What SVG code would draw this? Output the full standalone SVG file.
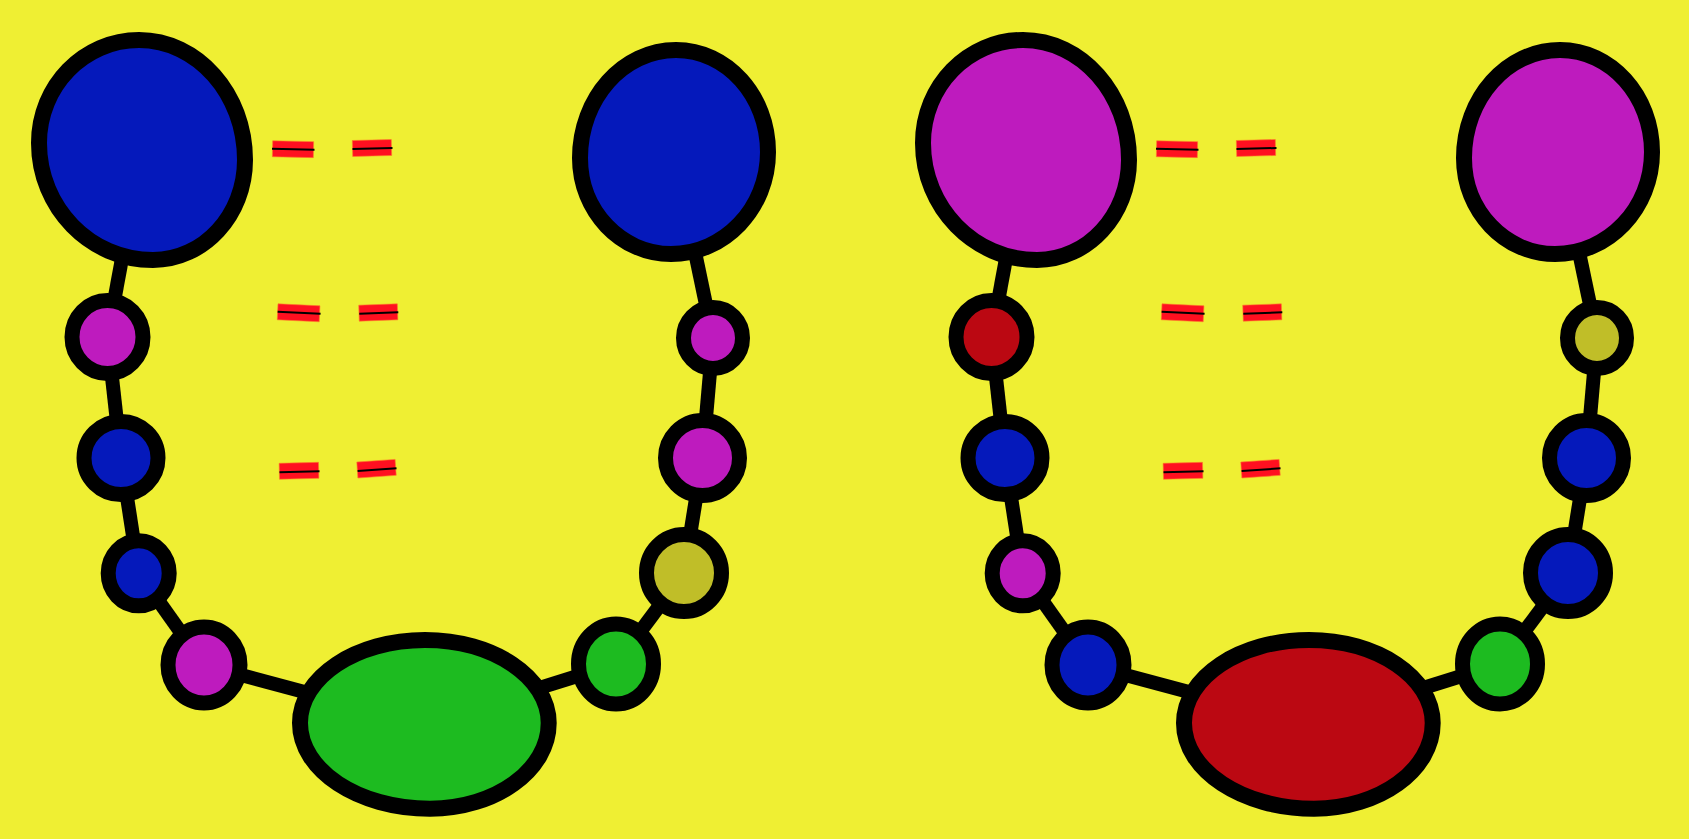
<svg xmlns="http://www.w3.org/2000/svg" width="1689" height="839" viewBox="0 0 1689 839">
<style>
.e{stroke:#000;stroke-width:14;stroke-linecap:butt}
.big{stroke:#000;stroke-width:16}
.sm{stroke:#000;stroke-width:15}
.blue{fill:#0519bb}.mag{fill:#be1bbe}.green{fill:#1dbb20}.olive{fill:#c0be28}.red{fill:#bb0812}
.dr{fill:#ff1020;stroke:#ff7a2a;stroke-width:0.6}
.dl{stroke:#000;stroke-width:2}
</style>
<rect width="1689" height="839" fill="#efef33"/>
<g id="connectors">
<line class="e" x1="142" y1="150" x2="107.5" y2="337"/>
<line class="e" x1="107.5" y1="337" x2="121" y2="458"/>
<line class="e" x1="121" y1="458" x2="138.7" y2="573"/>
<line class="e" x1="138.7" y1="573" x2="204" y2="665"/>
<line class="e" x1="204" y1="665" x2="424" y2="724"/>
<line class="e" x1="424" y1="724" x2="616" y2="664"/>
<line class="e" x1="616" y1="664" x2="684" y2="573"/>
<line class="e" x1="684" y1="573" x2="702.5" y2="458"/>
<line class="e" x1="702.5" y1="458" x2="713" y2="338"/>
<line class="e" x1="713" y1="338" x2="674" y2="152"/>
<line class="e" x1="1026" y1="150" x2="991.5" y2="337"/>
<line class="e" x1="991.5" y1="337" x2="1005" y2="458"/>
<line class="e" x1="1005" y1="458" x2="1022.7" y2="573"/>
<line class="e" x1="1022.7" y1="573" x2="1088" y2="665"/>
<line class="e" x1="1088" y1="665" x2="1308" y2="724"/>
<line class="e" x1="1308" y1="724" x2="1500" y2="664"/>
<line class="e" x1="1500" y1="664" x2="1568" y2="573"/>
<line class="e" x1="1568" y1="573" x2="1586.5" y2="458"/>
<line class="e" x1="1586.5" y1="458" x2="1597" y2="338"/>
<line class="e" x1="1597" y1="338" x2="1558" y2="152"/>
</g>
<g id="L-big1"><path class="big blue" d="M139,40 C197.5,40 245,93.8 245,160 C245,215 203.8,260 153,260 C90,260 39,207.6 39,143 C39,86 83.8,40 139,40 Z"/></g>
<g id="L-big2"><path class="big blue" d="M676,50 C726.8,50 768,95.7 768,152 C768,208.3 724.5,254 671,254 C620.8,254 580,211 580,158 C580,98.4 623,50 676,50 Z"/></g>
<g id="L-bottom"><path class="big green" d="M425,640 C493.3,640 548.7,677.2 548.7,723 C548.7,770.3 495.5,808.7 430,808.7 C358.2,808.7 300,770.3 300,723 C300,677.2 356,640 425,640 Z"/></g>
<g id="L-n1"><ellipse class="sm mag" cx="107.5" cy="337" rx="35.5" ry="36.5"/></g>
<g id="L-n2"><ellipse class="sm blue" cx="121" cy="458" rx="37" ry="36.5"/></g>
<g id="L-n3"><ellipse class="sm blue" cx="138.7" cy="573.3" rx="30.5" ry="32.5"/></g>
<g id="L-n4"><ellipse class="sm mag" cx="204" cy="665" rx="36" ry="38"/></g>
<g id="L-n5"><ellipse class="sm green" cx="616" cy="664" rx="37.5" ry="40"/></g>
<g id="L-n6"><ellipse class="sm olive" cx="684" cy="573" rx="37.5" ry="38.5"/></g>
<g id="L-n7"><ellipse class="sm mag" cx="702.5" cy="458" rx="37" ry="37.5"/></g>
<g id="L-n8"><ellipse class="sm mag" cx="713" cy="338" rx="29.5" ry="30.5"/></g>
<g id="R-big1"><path class="big mag" d="M1023,40 C1081.5,40 1129,93.8 1129,160 C1129,215 1087.8,260 1037,260 C974,260 923,207.6 923,143 C923,86 967.8,40 1023,40 Z"/></g>
<g id="R-big2"><path class="big mag" d="M1560,50 C1610.8,50 1652,95.7 1652,152 C1652,208.3 1608.5,254 1555,254 C1504.8,254 1464,211 1464,158 C1464,98.4 1507,50 1560,50 Z"/></g>
<g id="R-bottom"><path class="big red" d="M1309,640 C1377.3,640 1432.7,677.2 1432.7,723 C1432.7,770.3 1379.5,808.7 1314,808.7 C1242.2,808.7 1184,770.3 1184,723 C1184,677.2 1240,640 1309,640 Z"/></g>
<g id="R-n1"><ellipse class="sm red" cx="991.5" cy="337" rx="35.5" ry="36.5"/></g>
<g id="R-n2"><ellipse class="sm blue" cx="1005" cy="458" rx="37" ry="36.5"/></g>
<g id="R-n3"><ellipse class="sm mag" cx="1022.7" cy="573.3" rx="30.5" ry="32.5"/></g>
<g id="R-n4"><ellipse class="sm blue" cx="1088" cy="665" rx="36" ry="38"/></g>
<g id="R-n5"><ellipse class="sm green" cx="1500" cy="664" rx="37.5" ry="40"/></g>
<g id="R-n6"><ellipse class="sm blue" cx="1568" cy="573" rx="37.5" ry="38.5"/></g>
<g id="R-n7"><ellipse class="sm blue" cx="1586.5" cy="458" rx="37" ry="37.5"/></g>
<g id="R-n8"><ellipse class="sm olive" cx="1597" cy="338" rx="29.5" ry="30.5"/></g>
<g id="marks">
<g transform="translate(293,149.2) rotate(1.2)"><rect class="dr" x="-20.5" y="-8" width="41" height="16"/><line class="dl" x1="-21" y1="0" x2="21.5" y2="0"/></g>
<g transform="translate(372,148) rotate(-1.5)"><rect class="dr" x="-19.5" y="-8" width="39" height="16"/><line class="dl" x1="-19.5" y1="0.5" x2="20.5" y2="0.5"/></g>
<g transform="translate(298.6,312.8) rotate(2.7)"><rect class="dr" x="-21" y="-8" width="42" height="16"/><line class="dl" x1="-21" y1="0" x2="22" y2="0"/></g>
<g transform="translate(378.3,312.5) rotate(-1.9)"><rect class="dr" x="-19.3" y="-8" width="38.6" height="16"/><line class="dl" x1="-19" y1="0.5" x2="20" y2="0.5"/></g>
<g transform="translate(299,470.8) rotate(-1.4)"><rect class="dr" x="-19.7" y="-8" width="39.4" height="16"/><line class="dl" x1="-19.5" y1="1" x2="20.5" y2="1"/></g>
<g transform="translate(376.5,468.7) rotate(-4)"><rect class="dr" x="-19.2" y="-8" width="38.4" height="16"/><line class="dl" x1="-19" y1="1" x2="20" y2="1"/></g>
<g transform="translate(1177,149.2) rotate(1.2)"><rect class="dr" x="-20.5" y="-8" width="41" height="16"/><line class="dl" x1="-21" y1="0" x2="21.5" y2="0"/></g>
<g transform="translate(1256,148) rotate(-1.5)"><rect class="dr" x="-19.5" y="-8" width="39" height="16"/><line class="dl" x1="-19.5" y1="0.5" x2="20.5" y2="0.5"/></g>
<g transform="translate(1182.6,312.8) rotate(2.7)"><rect class="dr" x="-21" y="-8" width="42" height="16"/><line class="dl" x1="-21" y1="0" x2="22" y2="0"/></g>
<g transform="translate(1262.3,312.5) rotate(-1.9)"><rect class="dr" x="-19.3" y="-8" width="38.6" height="16"/><line class="dl" x1="-19" y1="0.5" x2="20" y2="0.5"/></g>
<g transform="translate(1183,470.8) rotate(-1.4)"><rect class="dr" x="-19.7" y="-8" width="39.4" height="16"/><line class="dl" x1="-19.5" y1="1" x2="20.5" y2="1"/></g>
<g transform="translate(1260.5,468.7) rotate(-4)"><rect class="dr" x="-19.2" y="-8" width="38.4" height="16"/><line class="dl" x1="-19" y1="1" x2="20" y2="1"/></g>
</g>
</svg>
